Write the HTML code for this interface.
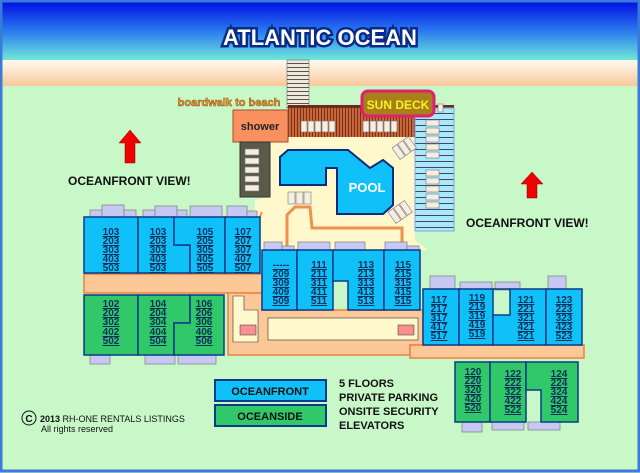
<!DOCTYPE html>
<html><head><meta charset="utf-8"><style>
body{margin:0;width:640px;height:473px;overflow:hidden;background:#c8f7c8}
svg{display:block}
text{font-family:"Liberation Sans",sans-serif;font-weight:bold}
.u{fill:#0b2f5a;font-size:10px;text-anchor:middle;text-decoration:underline}
</style></head><body>
<svg width="640" height="473" viewBox="0 0 640 473">
<defs>
<linearGradient id="sky" x1="0" y1="0" x2="0" y2="1"><stop offset="0" stop-color="#0010e0"/><stop offset="0.5" stop-color="#2a7af0"/><stop offset="1" stop-color="#70e8d8"/></linearGradient>
<linearGradient id="sand" x1="0" y1="0" x2="0" y2="1"><stop offset="0" stop-color="#fffaf0"/><stop offset="1" stop-color="#f8c89a"/></linearGradient>
<pattern id="st" width="4" height="4" patternUnits="userSpaceOnUse"><rect width="4" height="4" fill="#efeadc"/><rect y="3" width="4" height="1" fill="#555"/></pattern>
<pattern id="dk" width="3" height="4" patternUnits="userSpaceOnUse"><rect width="3" height="4" fill="#c8683a"/><rect width="1" height="4" fill="#7a3018"/></pattern>
<pattern id="bl" width="4" height="6" patternUnits="userSpaceOnUse"><rect width="4" height="6" fill="#a8e8f8"/><rect y="5" width="4" height="1" fill="#446"/></pattern>
</defs>
<rect width="640" height="473" fill="#c8f7c8"/>
<rect x="2" y="2" width="636" height="58" fill="url(#sky)"/>
<rect x="2" y="60" width="636" height="26" fill="url(#sand)"/>
<rect x="1" y="1" width="638" height="470" fill="none" stroke="#3a7ad8" stroke-width="3"/>
<text x="320" y="45" font-size="22" text-anchor="middle" fill="#fff" stroke="#0a2a8a" stroke-width="5" paint-order="stroke">ATLANTIC OCEAN</text>
<rect x="287" y="60" width="22" height="48" fill="url(#st)" stroke="#555" stroke-width="0.5"/>
<text x="229" y="106" font-size="11" fill="#f0a030" stroke="#8a5010" stroke-width="0.5" text-anchor="middle">boardwalk to beach</text>
<polygon points="255,200 270,197 270,137 415,137 415,240 428,250 262,250 255,262" fill="#fff8cc"/>
<polyline points="287,250 287,215 295,207 310,207 312,228 402,228 402,250" fill="none" stroke="#f09050" stroke-width="3"/>
<line x1="262" y1="212" x2="255" y2="228" stroke="#f09050" stroke-width="2"/>
<rect x="288" y="105" width="166" height="3" fill="#6a2a20"/>
<rect x="288" y="108" width="127" height="29" fill="url(#dk)"/>
<g fill="#f6eee0" stroke="#777" stroke-width="0.6">
<rect x="301" y="121" width="6" height="11"/><rect x="308" y="121" width="6" height="11"/><rect x="315" y="121" width="6" height="11"/><rect x="322" y="121" width="6" height="11"/><rect x="329" y="121" width="6" height="11"/>
<rect x="363" y="121" width="6" height="11"/><rect x="370" y="121" width="6" height="11"/><rect x="377" y="121" width="6" height="11"/><rect x="384" y="121" width="6" height="11"/><rect x="391" y="121" width="6" height="11"/>
</g>
<rect x="415" y="108" width="39" height="123" fill="url(#bl)" stroke="#8aa0e0" stroke-width="1"/>
<g fill="#f6eee0" stroke="#777" stroke-width="0.6">
<rect x="426" y="120" width="13" height="6"/><rect x="426" y="128" width="13" height="6"/><rect x="426" y="136" width="13" height="6"/><rect x="426" y="144" width="13" height="6"/><rect x="426" y="152" width="13" height="6"/>
<rect x="426" y="170" width="13" height="6"/><rect x="426" y="178" width="13" height="6"/><rect x="426" y="186" width="13" height="6"/><rect x="426" y="194" width="13" height="6"/><rect x="426" y="202" width="13" height="6"/>
<rect x="438" y="104" width="5" height="8"/>
<rect x="288" y="192" width="7" height="12"/><rect x="296" y="192" width="7" height="12"/><rect x="304" y="192" width="7" height="12"/>
<g transform="translate(392,148) rotate(-35)"><rect width="6" height="14"/><rect x="7" width="6" height="14"/><rect x="14" width="6" height="14"/></g>
<g transform="translate(388,212) rotate(-35)"><rect width="6" height="14"/><rect x="7" width="6" height="14"/><rect x="14" width="6" height="14"/></g>
</g>
<rect x="362" y="91" width="72" height="25" rx="6" fill="#a8801a" stroke="#e02070" stroke-width="3"/>
<text x="398" y="109" font-size="12" text-anchor="middle" fill="#f8f020">SUN DECK</text>
<rect x="233" y="110" width="55" height="32" fill="#f89060" stroke="#a05030"/>
<text x="260" y="130" font-size="11" text-anchor="middle" fill="#222">shower</text>
<rect x="240" y="142" width="30" height="55" fill="#5a5a48" stroke="#333"/>
<g fill="#f6eee0" stroke="#777" stroke-width="0.6"><rect x="245" y="149" width="14" height="6"/><rect x="245" y="158" width="14" height="6"/><rect x="245" y="167" width="14" height="6"/><rect x="245" y="176" width="14" height="6"/><rect x="245" y="185" width="14" height="6"/></g>
<polygon points="280,157 288,150 348,150 370,168 383,160 393,168 393,205 383,214 337,214 337,168 326,168 326,185 280,185" fill="#10c0f8" stroke="#0a2a7a" stroke-width="2"/>
<text x="367" y="192" font-size="13" text-anchor="middle" fill="#fff">POOL</text>
<polygon points="130,130 141,143 135,143 135,163 125,163 125,143 119,143" fill="#f00000" stroke="#800" stroke-width="0.5"/>
<polygon points="532,172 543,184 537,184 537,198 527,198 527,184 521,184" fill="#f00000" stroke="#800" stroke-width="0.5"/>
<text x="68" y="185" font-size="12" fill="#111">OCEANFRONT VIEW!</text>
<text x="466" y="227" font-size="12" fill="#111">OCEANFRONT VIEW!</text>
<rect x="84" y="274" width="180" height="19" fill="#fcc898" stroke="#f08040" stroke-width="1.5"/>
<polygon points="228,293 262,293 262,310 423,310 423,345 410,345 410,355 228,355" fill="#fcc898" stroke="#f08040" stroke-width="1.5"/>
<polygon points="233,296 244,296 244,310 258,310 258,342 233,342" fill="#fff8cc" stroke="#333" stroke-width="0.6"/>
<rect x="268" y="318" width="150" height="22" fill="#fff8cc" stroke="#333" stroke-width="0.6"/>
<rect x="240" y="325" width="16" height="10" fill="#f89090" stroke="#333" stroke-width="0.5"/>
<rect x="398" y="325" width="16" height="10" fill="#f89090" stroke="#333" stroke-width="0.5"/>
<rect x="410" y="345" width="174" height="13" fill="#fcc898" stroke="#f08040" stroke-width="1.5"/>
<g fill="#c8c8f4" stroke="#888" stroke-width="0.8">
<rect x="90" y="210" width="12" height="8"/><rect x="102" y="205" width="22" height="12"/><rect x="124" y="210" width="12" height="8"/>
<rect x="143" y="210" width="12" height="8"/><rect x="155" y="206" width="22" height="12"/><rect x="177" y="210" width="10" height="8"/>
<rect x="190" y="206" width="32" height="12"/><rect x="227" y="206" width="20" height="12"/><rect x="247" y="211" width="10" height="7"/>
<rect x="264" y="242" width="18" height="9"/><rect x="282" y="246" width="12" height="5"/><rect x="298" y="242" width="32" height="9"/><rect x="335" y="242" width="30" height="9"/><rect x="385" y="242" width="22" height="9"/><rect x="407" y="246" width="12" height="5"/>
<rect x="430" y="276" width="25" height="13"/><rect x="460" y="282" width="32" height="8"/><rect x="495" y="282" width="25" height="8"/><rect x="548" y="276" width="18" height="13"/>
<rect x="90" y="355" width="20" height="9"/><rect x="145" y="355" width="30" height="9"/><rect x="178" y="355" width="38" height="9"/>
<rect x="462" y="422" width="20" height="10"/><rect x="492" y="422" width="32" height="8"/><rect x="528" y="422" width="32" height="8"/>
</g>
<g fill="#10c0f8" stroke="#0a3a8a" stroke-width="1.5">
<rect x="84" y="217" width="54" height="56"/>
<polygon points="138,217 174,217 174,245 190,245 190,273 138,273"/>
<polygon points="174,217 225,217 225,273 190,273 190,245 174,245"/>
<rect x="225" y="217" width="35" height="56"/>
<rect x="262" y="250" width="35" height="60"/>
<rect x="297" y="250" width="36" height="60"/>
<polygon points="333,250 384,250 384,310 348,310 348,281 333,281"/>
<rect x="384" y="250" width="36" height="60"/>
<rect x="423" y="289" width="36" height="56"/>
<rect x="459" y="289" width="34" height="56"/>
<polygon points="493,289 546,289 546,345 493,345 493,315 510,315 510,289"/>
<rect x="546" y="289" width="36" height="56"/>
</g>
<g fill="#30c868" stroke="#0a3a8a" stroke-width="1.5">
<rect x="84" y="295" width="54" height="60"/>
<polygon points="138,295 190,295 190,323 174,323 174,355 138,355"/>
<polygon points="190,295 224,295 224,355 174,355 174,323 190,323"/>
<rect x="455" y="362" width="35" height="60"/>
<rect x="490" y="362" width="36" height="60"/>
<polygon points="526,362 578,362 578,422 541,422 541,390 526,390"/>
</g>
<g class="u">
<text x="111" y="235" class="u">103</text><text x="111" y="244" class="u">203</text><text x="111" y="253" class="u">303</text><text x="111" y="262" class="u">403</text><text x="111" y="271" class="u">503</text>
<text x="158" y="235" class="u">103</text><text x="158" y="244" class="u">203</text><text x="158" y="253" class="u">303</text><text x="158" y="262" class="u">403</text><text x="158" y="271" class="u">503</text>
<text x="205" y="235" class="u">105</text><text x="205" y="244" class="u">205</text><text x="205" y="253" class="u">305</text><text x="205" y="262" class="u">405</text><text x="205" y="271" class="u">505</text>
<text x="243" y="235" class="u">107</text><text x="243" y="244" class="u">207</text><text x="243" y="253" class="u">307</text><text x="243" y="262" class="u">407</text><text x="243" y="271" class="u">507</text>
<text x="281" y="268" class="u">-----</text><text x="281" y="277" class="u">209</text><text x="281" y="286" class="u">309</text><text x="281" y="295" class="u">409</text><text x="281" y="304" class="u">509</text>
<text x="319" y="268" class="u">111</text><text x="319" y="277" class="u">211</text><text x="319" y="286" class="u">311</text><text x="319" y="295" class="u">411</text><text x="319" y="304" class="u">511</text>
<text x="366" y="268" class="u">113</text><text x="366" y="277" class="u">213</text><text x="366" y="286" class="u">313</text><text x="366" y="295" class="u">413</text><text x="366" y="304" class="u">513</text>
<text x="403" y="268" class="u">115</text><text x="403" y="277" class="u">215</text><text x="403" y="286" class="u">315</text><text x="403" y="295" class="u">415</text><text x="403" y="304" class="u">515</text>
<text x="439" y="303" class="u">117</text><text x="439" y="312" class="u">217</text><text x="439" y="321" class="u">317</text><text x="439" y="330" class="u">417</text><text x="439" y="339" class="u">517</text>
<text x="477" y="301" class="u">119</text><text x="477" y="310" class="u">219</text><text x="477" y="319" class="u">319</text><text x="477" y="328" class="u">419</text><text x="477" y="337" class="u">519</text>
<text x="526" y="303" class="u">121</text><text x="526" y="312" class="u">221</text><text x="526" y="321" class="u">321</text><text x="526" y="330" class="u">421</text><text x="526" y="339" class="u">521</text>
<text x="564" y="303" class="u">123</text><text x="564" y="312" class="u">223</text><text x="564" y="321" class="u">323</text><text x="564" y="330" class="u">423</text><text x="564" y="339" class="u">523</text>
<text x="111" y="307" class="u">102</text><text x="111" y="316" class="u">202</text><text x="111" y="325" class="u">302</text><text x="111" y="335" class="u">402</text><text x="111" y="344" class="u">502</text>
<text x="158" y="307" class="u">104</text><text x="158" y="316" class="u">204</text><text x="158" y="325" class="u">304</text><text x="158" y="335" class="u">404</text><text x="158" y="344" class="u">504</text>
<text x="204" y="307" class="u">106</text><text x="204" y="316" class="u">206</text><text x="204" y="325" class="u">306</text><text x="204" y="335" class="u">406</text><text x="204" y="344" class="u">506</text>
<text x="473" y="375" class="u">120</text><text x="473" y="384" class="u">220</text><text x="473" y="393" class="u">320</text><text x="473" y="402" class="u">420</text><text x="473" y="411" class="u">520</text>
<text x="513" y="377" class="u">122</text><text x="513" y="386" class="u">222</text><text x="513" y="395" class="u">322</text><text x="513" y="404" class="u">422</text><text x="513" y="413" class="u">522</text>
<text x="559" y="377" class="u">124</text><text x="559" y="386" class="u">224</text><text x="559" y="395" class="u">324</text><text x="559" y="404" class="u">424</text><text x="559" y="413" class="u">524</text>
</g>
<rect x="215" y="380" width="111" height="21" fill="#10c0f8" stroke="#0a3a8a" stroke-width="2"/>
<text x="270" y="395" font-size="11" text-anchor="middle" fill="#111">OCEANFRONT</text>
<rect x="215" y="405" width="111" height="21" fill="#30c868" stroke="#0a3a8a" stroke-width="2"/>
<text x="270" y="420" font-size="11" text-anchor="middle" fill="#111">OCEANSIDE</text>
<g font-size="11" fill="#111"><text x="339" y="387">5 FLOORS</text><text x="339" y="401">PRIVATE PARKING</text><text x="339" y="415">ONSITE SECURITY</text><text x="339" y="429">ELEVATORS</text></g>
<circle cx="29" cy="418" r="7" fill="none" stroke="#111" stroke-width="1"/>
<text x="29" y="422" font-size="10" text-anchor="middle" fill="#111">C</text>
<text x="40" y="422" font-size="9" fill="#111">2013 <tspan style="font-weight:normal">RH-ONE RENTALS LISTINGS</tspan></text>
<text x="41" y="432" font-size="9" style="font-weight:normal" fill="#111">All rights reserved</text>
</svg>
</body></html>
